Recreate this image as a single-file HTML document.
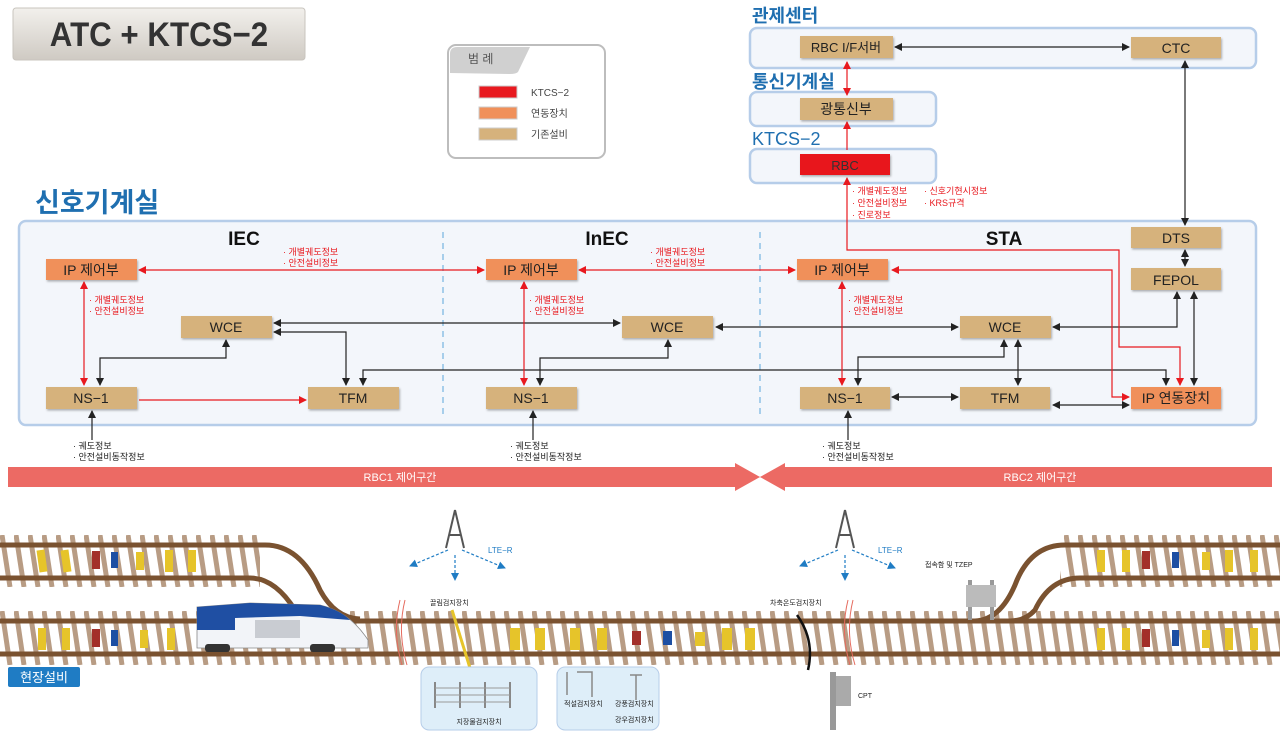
<!DOCTYPE html>
<html><head><meta charset="utf-8"><style>
html,body{margin:0;padding:0;background:#fff;width:1280px;height:740px;overflow:hidden}
svg text{font-family:"Liberation Sans","Noto Sans CJK KR",sans-serif}
</style></head><body>
<svg width="1280" height="740" viewBox="0 0 1280 740" xmlns="http://www.w3.org/2000/svg">
<defs>
<marker id="ak" markerWidth="8" markerHeight="8" refX="7" refY="4" orient="auto-start-reverse" markerUnits="userSpaceOnUse"><path d="M0,0 L8,4 L0,8 z" fill="#222"/></marker>
<marker id="ar" markerWidth="8" markerHeight="8" refX="7" refY="4" orient="auto-start-reverse" markerUnits="userSpaceOnUse"><path d="M0,0 L8,4 L0,8 z" fill="#e8191f"/></marker>
<marker id="ab" markerWidth="8" markerHeight="8" refX="7" refY="4" orient="auto-start-reverse" markerUnits="userSpaceOnUse"><path d="M0,0 L8,4 L0,8 z" fill="#1f7cc4"/></marker>
<linearGradient id="tg" x1="0" y1="0" x2="0" y2="1"><stop offset="0" stop-color="#f2f0ec"/><stop offset="1" stop-color="#cfcac3"/></linearGradient>
<pattern id="tiesA" x="0" y="535" width="14" height="52" patternUnits="userSpaceOnUse"><path d="M2,0 L10,52" stroke="#b89c84" stroke-width="5"/></pattern>
<pattern id="tiesB" x="0" y="611" width="14" height="54" patternUnits="userSpaceOnUse"><path d="M2,0 L10,54" stroke="#b89c84" stroke-width="5"/></pattern>
<filter id="sh" x="-10%" y="-20%" width="130%" height="150%"><feDropShadow dx="1" dy="1.5" stdDeviation="1" flood-color="#000" flood-opacity="0.3"/></filter>
</defs>

<!-- title -->
<rect x="13" y="8" width="292" height="52" rx="3" fill="url(#tg)" stroke="#c8c4be"/>
<text x="159" y="46" font-size="34" text-anchor="middle" fill="#333" font-weight="bold" transform="translate(159 0) scale(0.92 1) translate(-159 0)">ATC + KTCS−2</text>

<!-- legend -->
<rect x="448" y="45" width="157" height="113" rx="8" fill="#fff" stroke="#bdbdbd" stroke-width="2"/>
<path d="M450,73 L450,54 Q450,47 457,47 L530,47 L518,72 Q516,74 510,74 Z" fill="#d0d0d0"/>
<text x="468" y="63" font-size="12" fill="#555">범 례</text>
<rect x="479" y="86" width="38" height="12" fill="#e8191f" stroke="#ccc"/>
<rect x="479" y="107" width="38" height="12" fill="#f0905a" stroke="#ccc"/>
<rect x="479" y="128" width="38" height="12" fill="#d6b27c" stroke="#ccc"/>
<text x="531" y="96" font-size="10" fill="#444">KTCS−2</text>
<text x="531" y="117" font-size="10" fill="#444">연동장치</text>
<text x="531" y="138" font-size="10" fill="#444">기존설비</text>

<!-- top right groups -->
<text x="752" y="22" font-size="18" font-weight="bold" fill="#1f6fb0">관제센터</text>
<rect x="750" y="28" width="506" height="40" rx="7" fill="#f3f6fb" stroke="#b6cde9" stroke-width="2.5"/>
<text x="752" y="88" font-size="18" font-weight="bold" fill="#1f6fb0">통신기계실</text>
<rect x="750" y="92" width="186" height="34" rx="7" fill="#f3f6fb" stroke="#b6cde9" stroke-width="2.5"/>
<text x="752" y="145" font-size="18" fill="#1f6fb0">KTCS−2</text>
<rect x="750" y="149" width="186" height="34" rx="7" fill="#f3f6fb" stroke="#b6cde9" stroke-width="2.5"/>

<!-- main room -->
<text x="35" y="212" font-size="27" font-weight="bold" fill="#1f6fb0">신호기계실</text>
<rect x="19" y="221" width="1237" height="204" rx="7" fill="#f3f6fb" stroke="#b6cde9" stroke-width="2.5"/>
<line x1="443" y1="232" x2="443" y2="418" stroke="#8ec0e6" stroke-width="1.5" stroke-dasharray="6,5"/>
<line x1="760" y1="232" x2="760" y2="418" stroke="#8ec0e6" stroke-width="1.5" stroke-dasharray="6,5"/>
<text x="244" y="245" font-size="19" font-weight="bold" text-anchor="middle" fill="#111">IEC</text>
<text x="607" y="245" font-size="19" font-weight="bold" text-anchor="middle" fill="#111">InEC</text>
<text x="1004" y="245" font-size="19" font-weight="bold" text-anchor="middle" fill="#111">STA</text>

<!-- connectors black -->
<g stroke="#222" stroke-width="1.2" fill="none">
<line x1="895" y1="47" x2="1129" y2="47" marker-start="url(#ak)" marker-end="url(#ak)"/>
<line x1="1185" y1="61" x2="1185" y2="225" marker-start="url(#ak)" marker-end="url(#ak)"/>
<line x1="1185" y1="250" x2="1185" y2="266" marker-start="url(#ak)" marker-end="url(#ak)"/>
<line x1="274" y1="323" x2="620" y2="323" marker-start="url(#ak)" marker-end="url(#ak)"/>
<polyline points="274,332 346,332 346,385" marker-start="url(#ak)" marker-end="url(#ak)"/>
<polyline points="100,385 100,358 226,358 226,340" marker-start="url(#ak)" marker-end="url(#ak)"/>
<polyline points="363,385 363,370 1166,370 1166,385" marker-start="url(#ak)" marker-end="url(#ak)"/>
<polyline points="540,385 540,358 668,358 668,340" marker-start="url(#ak)" marker-end="url(#ak)"/>
<line x1="716" y1="327" x2="958" y2="327" marker-start="url(#ak)" marker-end="url(#ak)"/>
<polyline points="1053,327 1177,327 1177,292" marker-start="url(#ak)" marker-end="url(#ak)"/>
<line x1="1194" y1="292" x2="1194" y2="385" marker-start="url(#ak)" marker-end="url(#ak)"/>
<polyline points="858,385 858,357 1004,357 1004,340" marker-start="url(#ak)" marker-end="url(#ak)"/>
<line x1="1018" y1="340" x2="1018" y2="385" marker-start="url(#ak)" marker-end="url(#ak)"/>
<line x1="892" y1="397" x2="958" y2="397" marker-start="url(#ak)" marker-end="url(#ak)"/>
<line x1="1053" y1="405" x2="1129" y2="405" marker-start="url(#ak)" marker-end="url(#ak)"/>
<line x1="92" y1="440" x2="92" y2="411" marker-end="url(#ak)"/>
<line x1="533" y1="440" x2="533" y2="411" marker-end="url(#ak)"/>
<line x1="848" y1="440" x2="848" y2="411" marker-end="url(#ak)"/>
</g>
<!-- red connectors -->
<g stroke="#e8191f" stroke-width="1.2" fill="none">
<line x1="847" y1="62" x2="847" y2="95" marker-start="url(#ar)" marker-end="url(#ar)"/>
<line x1="847" y1="150" x2="847" y2="122" marker-end="url(#ar)"/>
<polyline points="1180,385 1180,347 1119,347 1119,250 847,250 847,178" marker-start="url(#ar)" marker-end="url(#ar)"/>
<polyline points="1129,397 1112,397 1112,270 892,270" marker-start="url(#ar)" marker-end="url(#ar)"/>
<line x1="139" y1="270" x2="484" y2="270" marker-start="url(#ar)" marker-end="url(#ar)"/>
<line x1="579" y1="270" x2="795" y2="270" marker-start="url(#ar)" marker-end="url(#ar)"/>
<line x1="84" y1="282" x2="84" y2="385" marker-start="url(#ar)" marker-end="url(#ar)"/>
<line x1="524" y1="282" x2="524" y2="385" marker-start="url(#ar)" marker-end="url(#ar)"/>
<line x1="842" y1="282" x2="842" y2="385" marker-start="url(#ar)" marker-end="url(#ar)"/>
<line x1="139" y1="400" x2="306" y2="400" marker-end="url(#ar)"/>
</g>

<!-- red labels -->
<g font-size="9" fill="#e8191f">
<text x="283" y="255">· 개별궤도정보</text><text x="283" y="266">· 안전설비정보</text>
<text x="650" y="255">· 개별궤도정보</text><text x="650" y="266">· 안전설비정보</text>
<text x="89" y="303">· 개별궤도정보</text><text x="89" y="314">· 안전설비정보</text>
<text x="529" y="303">· 개별궤도정보</text><text x="529" y="314">· 안전설비정보</text>
<text x="848" y="303">· 개별궤도정보</text><text x="848" y="314">· 안전설비정보</text>
<text x="852" y="194">· 개별궤도정보</text><text x="852" y="206">· 안전설비정보</text><text x="852" y="218">· 진로정보</text>
<text x="924" y="194">· 신호기현시정보</text><text x="924" y="206">· KRS규격</text>
</g>
<g font-size="9" fill="#222">
<text x="73" y="449">· 궤도정보</text><text x="73" y="460">· 안전설비동작정보</text>
<text x="510" y="449">· 궤도정보</text><text x="510" y="460">· 안전설비동작정보</text>
<text x="822" y="449">· 궤도정보</text><text x="822" y="460">· 안전설비동작정보</text>
</g>

<!-- boxes -->
<g filter="url(#sh)">
<rect x="800" y="36" width="93" height="22" fill="#d6b27c"/>
<rect x="1131" y="37" width="90" height="21" fill="#d6b27c"/>
<rect x="800" y="98" width="93" height="22" fill="#d6b27c"/>
<rect x="800" y="154" width="90" height="21" fill="#e8191f"/>
<rect x="1131" y="227" width="90" height="21" fill="#d6b27c"/>
<rect x="1131" y="268" width="90" height="22" fill="#d6b27c"/>
<rect x="46" y="259" width="91" height="21" fill="#f0905a"/>
<rect x="486" y="259" width="91" height="21" fill="#f0905a"/>
<rect x="797" y="259" width="91" height="21" fill="#f0905a"/>
<rect x="181" y="316" width="91" height="22" fill="#d6b27c"/>
<rect x="622" y="316" width="91" height="22" fill="#d6b27c"/>
<rect x="960" y="316" width="91" height="22" fill="#d6b27c"/>
<rect x="46" y="387" width="91" height="22" fill="#d6b27c"/>
<rect x="308" y="387" width="91" height="22" fill="#d6b27c"/>
<rect x="486" y="387" width="91" height="22" fill="#d6b27c"/>
<rect x="800" y="387" width="90" height="22" fill="#d6b27c"/>
<rect x="960" y="387" width="90" height="22" fill="#d6b27c"/>
<rect x="1131" y="387" width="90" height="22" fill="#f0905a"/>
</g>
<g font-size="14" text-anchor="middle" fill="#222">
<text x="846" y="52" font-size="13">RBC I/F서버</text>
<text x="1176" y="53">CTC</text>
<text x="846" y="114">광통신부</text>
<text x="845" y="170" font-size="13" fill="#333">RBC</text>
<text x="1176" y="243">DTS</text>
<text x="1176" y="285">FEPOL</text>
<text x="91" y="275">IP 제어부</text>
<text x="531" y="275">IP 제어부</text>
<text x="842" y="275">IP 제어부</text>
<text x="226" y="332">WCE</text>
<text x="667" y="332">WCE</text>
<text x="1005" y="332">WCE</text>
<text x="91" y="403">NS−1</text>
<text x="353" y="403">TFM</text>
<text x="531" y="403">NS−1</text>
<text x="845" y="403">NS−1</text>
<text x="1005" y="403">TFM</text>
<text x="1176" y="403">IP 연동장치</text>
</g>

<!-- RBC zones -->
<polygon points="8,467 735,467 760,477 735,487 8,487" fill="#ec6a64"/>
<polygon points="1272,467 785,467 760,477 785,487 1272,487" fill="#ec6a64"/>
<polygon points="735,463 760,477 735,491" fill="#ec6a64"/>
<polygon points="785,463 760,477 785,491" fill="#ec6a64"/>
<text x="400" y="481" font-size="11" fill="#fff" text-anchor="middle">RBC1 제어구간</text>
<text x="1040" y="481" font-size="11" fill="#fff" text-anchor="middle">RBC2 제어구간</text>

<!-- tracks -->
<rect x="0" y="535" width="260" height="52" fill="url(#tiesA)"/>
<rect x="1060" y="535" width="220" height="52" fill="url(#tiesA)"/>
<rect x="0" y="611" width="1280" height="54" fill="url(#tiesB)"/>
<g stroke="#7a5230" stroke-width="5" fill="none">
<path d="M0,545 L265,545 Q300,545 320,590 Q335,618 360,619"/>
<path d="M0,578 L250,578 Q275,578 295,610 Q305,620 320,621"/>
<path d="M0,621 L1280,621"/>
<path d="M0,654 L1280,654"/>
<path d="M1280,545 L1065,545 Q1030,545 1015,585 Q1000,620 975,621"/>
<path d="M1280,578 L1080,578 Q1050,578 1035,610 Q1025,621 1010,621"/>
</g>
<!-- balises -->
<g fill="#e6c42a">
<rect x="38" y="550" width="8" height="22" transform="rotate(-8 42 561)"/>
<rect x="62" y="550" width="8" height="22" transform="rotate(-8 66 561)"/>
<rect x="136" y="552" width="8" height="18"/>
<rect x="165" y="550" width="8" height="22"/>
<rect x="188" y="550" width="8" height="22"/>
<rect x="38" y="628" width="8" height="22"/><rect x="62" y="628" width="8" height="22"/>
<rect x="140" y="630" width="8" height="18"/><rect x="167" y="628" width="8" height="22"/>
<rect x="510" y="628" width="10" height="22"/><rect x="535" y="628" width="10" height="22"/>
<rect x="570" y="628" width="10" height="22"/><rect x="597" y="628" width="10" height="22"/>
<rect x="695" y="632" width="10" height="14"/><rect x="722" y="628" width="10" height="22"/><rect x="745" y="628" width="10" height="22"/>
<rect x="1097" y="550" width="8" height="22"/><rect x="1122" y="550" width="8" height="22"/>
<rect x="1202" y="552" width="8" height="18"/><rect x="1225" y="550" width="8" height="22"/><rect x="1250" y="550" width="8" height="22"/>
<rect x="1097" y="628" width="8" height="22"/><rect x="1122" y="628" width="8" height="22"/>
<rect x="1202" y="630" width="8" height="18"/><rect x="1225" y="628" width="8" height="22"/><rect x="1250" y="628" width="8" height="22"/>
</g>
<g>
<rect x="92" y="551" width="8" height="18" fill="#a3302a"/><rect x="111" y="552" width="7" height="16" fill="#1d4fa3"/>
<rect x="92" y="629" width="8" height="18" fill="#a3302a"/><rect x="111" y="630" width="7" height="16" fill="#1d4fa3"/>
<rect x="632" y="631" width="9" height="14" fill="#a3302a"/><rect x="663" y="631" width="9" height="14" fill="#1d4fa3"/>
<rect x="1142" y="551" width="8" height="18" fill="#a3302a"/><rect x="1172" y="552" width="7" height="16" fill="#1d4fa3"/>
<rect x="1142" y="629" width="8" height="18" fill="#a3302a"/><rect x="1172" y="630" width="7" height="16" fill="#1d4fa3"/>
</g>
<!-- train -->
<path d="M197,607 L250,603 L320,605 Q350,612 368,640 L368,648 L197,648 Z" fill="#f2f4f8" stroke="#888" stroke-width="0.8"/>
<path d="M197,607 L250,603 L320,605 Q340,610 350,620 L300,616 L235,618 L235,630 L197,630 Z" fill="#1f4fa3"/>
<rect x="255" y="620" width="45" height="18" fill="#c9ccd2"/>
<rect x="205" y="644" width="25" height="8" rx="3" fill="#333"/><rect x="310" y="644" width="25" height="8" rx="3" fill="#333"/>
<!-- breaks -->
<path d="M400,600 Q392,632 402,665 M405,600 Q397,632 407,665" stroke="#e56b5e" fill="none"/>
<path d="M848,600 Q840,632 850,665 M853,600 Q845,632 855,665" stroke="#e56b5e" fill="none"/>
<!-- towers -->
<g stroke="#555" stroke-width="2" fill="none">
<path d="M455,510 L446,548 M455,510 L464,548 M449,535 L461,535"/>
<path d="M845,510 L836,548 M845,510 L854,548 M839,535 L851,535"/>
</g>
<g stroke="#1f7cc4" stroke-width="1.2" stroke-dasharray="3,2" fill="none">
<line x1="448" y1="550" x2="410" y2="566" marker-end="url(#ab)"/><line x1="455" y1="555" x2="455" y2="580" marker-end="url(#ab)"/><line x1="462" y1="550" x2="505" y2="568" marker-end="url(#ab)"/>
<line x1="838" y1="550" x2="800" y2="566" marker-end="url(#ab)"/><line x1="845" y1="555" x2="845" y2="580" marker-end="url(#ab)"/><line x1="852" y1="550" x2="895" y2="568" marker-end="url(#ab)"/>
</g>
<text x="488" y="553" font-size="8" fill="#1f7cc4">LTE−R</text>
<text x="878" y="553" font-size="8" fill="#1f7cc4">LTE−R</text>
<text x="430" y="605" font-size="7" fill="#222">끌림검지장치</text>
<text x="770" y="605" font-size="7" fill="#222">차축온도검지장치</text>
<text x="925" y="567" font-size="7" fill="#222">접속함 및 TZEP</text>
<text x="858" y="698" font-size="7" fill="#222">CPT</text>
<line x1="452" y1="610" x2="470" y2="668" stroke="#e6c42a" stroke-width="3"/>
<path d="M797,615 Q815,640 808,670" stroke="#111" stroke-width="2.5" fill="none"/>
<rect x="830" y="672" width="6" height="58" fill="#999"/><rect x="836" y="676" width="15" height="30" fill="#aaa"/>
<rect x="968" y="580" width="4" height="40" fill="#999"/><rect x="990" y="580" width="4" height="40" fill="#999"/><rect x="966" y="585" width="30" height="22" fill="#bbb"/>
<!-- bottom boxes -->
<rect x="421" y="667" width="116" height="63" rx="8" fill="#deeef9" stroke="#b6cde9"/>
<g stroke="#888" stroke-width="2"><line x1="435" y1="682" x2="435" y2="708"/><line x1="460" y1="682" x2="460" y2="708"/><line x1="485" y1="682" x2="485" y2="708"/><line x1="510" y1="682" x2="510" y2="708"/></g>
<g stroke="#999" stroke-width="1"><line x1="435" y1="688" x2="510" y2="688"/><line x1="435" y1="695" x2="510" y2="695"/><line x1="435" y1="702" x2="510" y2="702"/></g>
<text x="479" y="724" font-size="7" text-anchor="middle" fill="#222">지장물검지장치</text>
<rect x="557" y="667" width="102" height="63" rx="8" fill="#deeef9" stroke="#b6cde9"/>
<g stroke="#888" stroke-width="1.5" fill="none"><path d="M567,672 L567,695 M577,672 L592,672 L592,697 M630,675 L642,675 M636,675 L636,700"/></g>
<text x="564" y="706" font-size="7" fill="#222">적설검지장치</text>
<text x="615" y="706" font-size="7" fill="#222">강풍검지장치</text>
<text x="615" y="722" font-size="7" fill="#222">강우검지장치</text>
<!-- label -->
<rect x="8" y="667" width="72" height="20" rx="2" fill="#1f7cc4"/>
<text x="44" y="682" font-size="13" fill="#fff" text-anchor="middle">현장설비</text>
</svg>
</body></html>
